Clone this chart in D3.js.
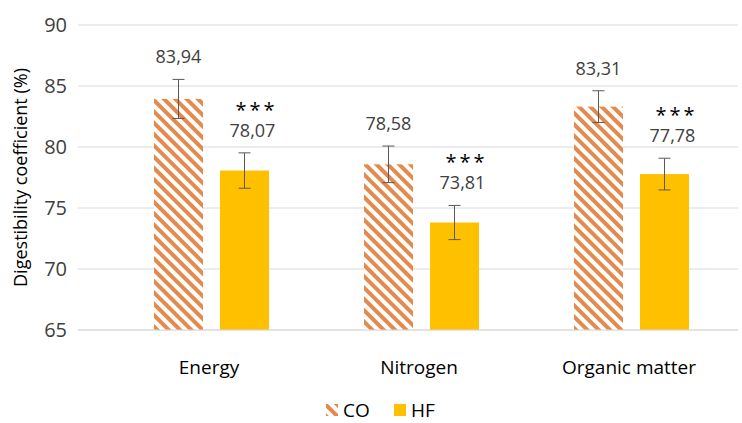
<!DOCTYPE html>
<html><head><meta charset="utf-8">
<script src="https://cdn.jsdelivr.net/npm/d3@7"></script>
<style>body{margin:0;background:#fff}text{font-family:"Open Sans",sans-serif}</style>
</head><body><div id="chart"></div>
<script>
const categories = ["Energy", "Nitrogen", "Organic matter"];
const coValues = [83.94, 78.58, 83.31];
const hfValues = [78.07, 73.81, 77.78];
const coErr = [1.6, 1.5, 1.3];
const hfErr = [1.45, 1.4, 1.3];
const yTicks = [65, 70, 75, 80, 85, 90];

const W = 742, H = 423;
const svg = d3.select("#chart").append("svg").attr("width", W).attr("height", H);

const defs = svg.append("defs");
const pat = defs.append("pattern").attr("id", "hatch").attr("patternUnits", "userSpaceOnUse")
  .attr("width", 8).attr("height", 8).attr("patternTransform", "rotate(45)");
pat.append("rect").attr("width", 8).attr("height", 8).attr("fill", "#fff");
pat.append("rect").attr("width", 8).attr("height", 4).attr("fill", "#E48A4C");

const x = d3.scaleBand().domain(categories).range([104, 734]);
const y = d3.scaleLinear().domain([65, 90]).range([330, 25]);

svg.append("g").selectAll("line").data(yTicks).join("line")
  .attr("x1", 78).attr("x2", 738).attr("y1", d => y(d)).attr("y2", d => y(d))
  .attr("stroke", "#d9d9d9");
svg.append("g").selectAll("text").data(yTicks).join("text")
  .attr("x", 67).attr("y", d => y(d) + 7).attr("text-anchor", "end")
  .attr("font-size", 20).attr("fill", "#404040").text(d => d);

svg.append("text").attr("transform", `translate(27,${y(77.5)}) rotate(-90)`)
  .attr("text-anchor", "middle").attr("font-size", 18).attr("fill", "#000")
  .text("Digestibility coefficient (%)");

const bw = 49;
const series = [
  { vals: coValues, err: coErr, fill: "url(#hatch)", off: -55 },
  { vals: hfValues, err: hfErr, fill: "#FFC000", off: 11 }
];
const fmt = v => v.toFixed(2).replace(".", ",");

series.forEach((s, si) => {
  const g = svg.append("g");
  categories.forEach((c, i) => {
    const cx = x(c) + x.bandwidth() / 2 + s.off;
    const v = s.vals[i], e = s.err[i];
    g.append("rect").attr("x", cx).attr("width", bw).attr("y", y(v)).attr("height", y(65) - y(v)).attr("fill", s.fill);
    const mx = cx + bw / 2;
    g.append("line").attr("x1", mx).attr("x2", mx).attr("y1", y(v - e)).attr("y2", y(v + e)).attr("stroke", "#595959");
    [v - e, v + e].forEach(t => g.append("line").attr("x1", mx - 6).attr("x2", mx + 6).attr("y1", y(t)).attr("y2", y(t)).attr("stroke", "#595959"));
    const ly = y(v + e) - 16;
    g.append("text").attr("x", mx + (si ? 8 : 0)).attr("y", ly).attr("text-anchor", "middle")
      .attr("font-size", 18).attr("fill", "#404040").text(fmt(v));
    if (si) g.append("text").attr("x", mx + 12).attr("y", ly - 20).attr("text-anchor", "middle")
      .attr("font-size", 20).attr("letter-spacing", 3).attr("fill", "#000").text("***");
  });
});

svg.append("line").attr("x1", 78).attr("x2", 738).attr("y1", y(65)).attr("y2", y(65)).attr("stroke", "#d9d9d9");
svg.append("g").selectAll("text").data(categories).join("text")
  .attr("x", d => x(d) + x.bandwidth() / 2).attr("y", 374).attr("text-anchor", "middle")
  .attr("font-size", 19).attr("fill", "#000").text(d => d);

const leg = svg.append("g").attr("transform", "translate(326,402)");
leg.append("rect").attr("x", 0).attr("y", 2).attr("width", 12).attr("height", 12).attr("fill", "url(#hatch)");
leg.append("text").attr("x", 17).attr("y", 15).attr("font-size", 19).attr("fill", "#000").text("CO");
leg.append("rect").attr("x", 68).attr("y", 2).attr("width", 12).attr("height", 12).attr("fill", "#FFC000");
leg.append("text").attr("x", 85).attr("y", 15).attr("font-size", 19).attr("fill", "#000").text("HF");
</script></body></html>
